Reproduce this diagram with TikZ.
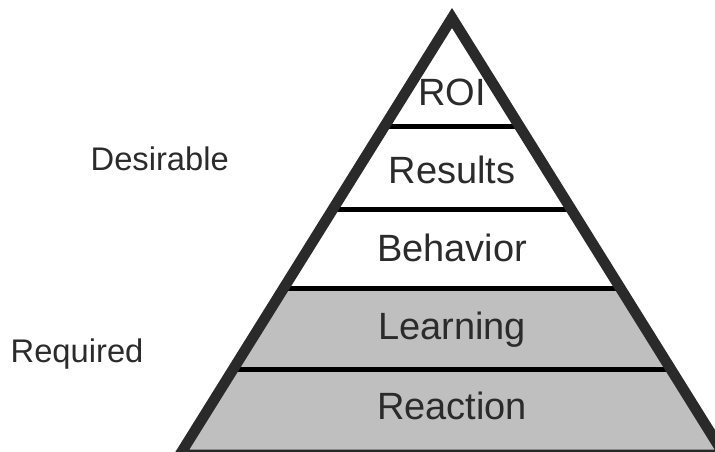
\documentclass[tikz,border=0pt]{standalone}
\usepackage{fontspec}
\setmainfont{Liberation Sans}
\usepackage{xcolor}
\usetikzlibrary{calc}

\definecolor{edgegray}{HTML}{2A2A2A}
\definecolor{bandgray}{HTML}{BFBFBF}
\definecolor{inkgray}{HTML}{2B2B2B}

\begin{document}
\begin{tikzpicture}[x=1pt, y=-1pt,
		level/.style={inner sep=0pt, anchor=base, text=inkgray, font=\fontsize{38}{40}\selectfont},
		side/.style={inner sep=0pt, anchor=base west, text=inkgray, font=\fontsize{32.7}{36}\selectfont}]
		\useasboundingbox (0,0) rectangle (715,452);
		
		\def\W{10.6};
		
		\coordinate (apex) at (452,18);
		\coordinate (bl) at (179.7,455);
		\coordinate (br) at (724.3,455);
		
		% dividers between the levels
		\foreach \t/\n in {0.2494/1, 0.4371/2, 0.6201/3, 0.8032/4} {
			\coordinate (l\n) at ($(apex)!\t!(bl)$);
			\coordinate (r\n) at ($(apex)!\t!(br)$);
		}
		
		\fill[bandgray] (l3) -- (r3) -- (br) -- (bl) -- cycle;
		
		\begin{scope}[black, line width=5pt]
			\foreach \n in {1,...,4}
				\draw (l\n) -- (r\n);
		\end{scope}
		
		\draw[edgegray, line width=\W pt] (apex) -- (br) -- (bl) -- cycle;
		
		\node[level] (roi) at (452,105) {ROI};
		\node[level] (results) at (452,183) {Results};
		\node[level] (behavior) at (452,261.5) {Behavior};
		\node[level] (learning) at (452,339) {Learning};
		\node[level] (reaction) at (452,419) {Reaction};
		
		\node[side] (desirable) at (90.5,170) {Desirable};
		\node[side] (required) at (10.5,362.7) {Required};
	\end{tikzpicture}
\end{document}
